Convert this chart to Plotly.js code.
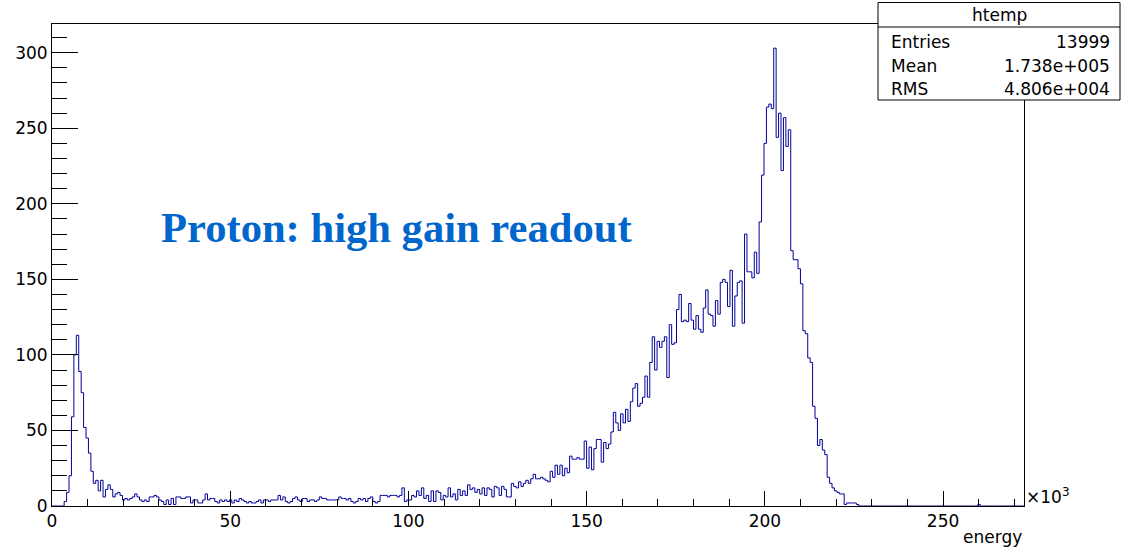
<!DOCTYPE html>
<html>
<head>
<meta charset="utf-8">
<script src="https://cdn.plot.ly/plotly-3.0.1.min.js"></script>
<style>
  html, body { margin: 0; padding: 0; background: #fff; }
  #chart { width: 1124px; height: 551px; }
</style>
</head>
<body>
<div id="chart"></div>
<script>
// Histogram definition (htemp): 400 bins over energy [0, 272.7] x10^3
const nBins = 400;
const xMin = 0;
const xMax = 272.7;

// Bin contents, bin 0 .. 399
const counts = [
  // 0-19
  0,0,0,0,0, 3,9,20,59,100, 113,89,75,52,45, 35,23,15,17,10,
  // 20-39
  17,6,11,14,11, 6,8,9,7,4, 5,4,5,6,8, 6,4,3,4,3,
  // 40-59
  6,6,7,6,4, 3,1,4,1,5, 1,6,6,5,5, 6,6,2,4,4,
  // 60-79
  2,2,4,8,4, 5,5,3,2,4, 3,4,3,4,2, 4,3,5,4,3,
  // 80-99
  2,3,2,2,3, 4,2,4,4,3, 4,4,4,7,4, 6,3,2,3,5,
  // 100-119
  6,4,3,5,5, 3,4,4,3,4, 6,5,5,4,4, 4,4,4,6,5,
  // 120-139
  5,4,5,3,2, 3,5,4,5,3, 5,6,3,2,3, 7,7,7,6,7,
  // 140-159
  7,7,6,7,12, 3,4,4,7,6, 10,7,12,5,7, 3,10,3,10,9,
  // 160-179
  4,7,6,12,6, 8,4,11,7,10, 7,14,11,12,9, 11,8,12,7,12,
  // 180-199
  11,6,13,12,7, 13,11,6,6,15, 13,12,16,13,15, 17,15,18,21,18,
  // 200-219
  18,19,18,17,16, 23,19,27,21,27, 20,25,22,33,31, 31,32,31,31,43,
  // 220-239
  25,39,24,38,44, 44,29,42,38,41, 49,62,55,50,61, 55,64,56,69,78,
  // 240-259
  81,66,68,72,86, 72,95,112,90,109, 105,109,112,85,120, 107,108,130,140,122,
  // 260-279
  123,122,134,123,117, 126,117,115,131,143, 127,126,119,136,127, 148,150,148,132,156,
  // 280-299
  119,139,148,149,121, 180,155,155,151,168, 154,188,219,240,264, 266,263,303,244,260,
  // 300-319
  222,257,238,249,169, 163,163,157,147,116, 114,98,95,66,58, 40,44,37,34,19,
  // 320-339
  15,12,10,9,8, 8,1,2,2,2, 2,1,0,0,0, 0,0,0,0,0,
  // 340-359
  0,0,0,0,0, 0,0,0,0,0, 0,0,0,0,0, 0,0,0,0,0,
  // 360-379
  0,0,0,0,0, 0,0,0,0,0, 0,0,0,0,0, 0,0,0,0,0,
  // 380-399
  0,1,0,0,0, 0,0,0,0,0, 0,0,0,0,0, 0,0,0,0,0
];

// Stats box texts
const statsTitle = "htemp";
const statsLabels = ["Entries", "Mean", "RMS"];
const statsValues = ["13999", "1.738e+005", "4.806e+004"];

const chartLabel = "Proton: high gain readout";
const xTitle = "energy";
const xExponent = "×10<sup>3</sup>";

// Build step outline from bin edges
const bw = (xMax - xMin) / nBins;
const xs = [], ys = [];
for (let i = 0; i <= nBins; i++) {
  xs.push(xMin + i * bw);
  ys.push(i < nBins ? counts[i] : counts[nBins - 1]);
}

const font = "DejaVu Sans, Liberation Sans, Arial, sans-serif";

const trace = {
  type: "scatter",
  mode: "lines",
  x: xs,
  y: ys,
  line: { shape: "hv", color: "#000099", width: 1 },
  hoverinfo: "skip"
};

// Stats-box geometry in pixels -> paper fractions
const L = 52, R = 100, T = 24, B = 45, W = 1124, H = 551;
const pw = W - L - R, ph = H - T - B;
const px = v => (v - L) / pw;
const py = v => (H - B - v) / ph;

const boxX0 = 878, boxX1 = 1120, boxY0 = 2.5, boxY1 = 100, sepY = 27;
const rowY = [42, 65.5, 89];

const shapes = [
  { type: "rect", xref: "paper", yref: "paper",
    x0: px(boxX0), x1: px(boxX1), y0: py(boxY1), y1: py(boxY0),
    line: { color: "#000", width: 1 }, fillcolor: "#fff", layer: "above" },
  { type: "line", xref: "paper", yref: "paper",
    x0: px(boxX0), x1: px(boxX1), y0: py(sepY), y1: py(sepY),
    line: { color: "#000", width: 1 }, layer: "above" }
];

const annotations = [
  { xref: "paper", yref: "paper", x: px((boxX0 + boxX1) / 2), y: py(15),
    text: statsTitle, showarrow: false, xanchor: "center", yanchor: "middle",
    font: { family: font, size: 17, color: "#000" } }
];
statsLabels.forEach((lab, i) => {
  annotations.push({ xref: "paper", yref: "paper", x: px(889), y: py(rowY[i]),
    text: lab, showarrow: false, xanchor: "left", yanchor: "middle",
    font: { family: font, size: 17, color: "#000" } });
  annotations.push({ xref: "paper", yref: "paper", x: px(1112), y: py(rowY[i]),
    text: statsValues[i], showarrow: false, xanchor: "right", yanchor: "middle",
    font: { family: font, size: 17, color: "#000" } });
});
annotations.push({ xref: "paper", yref: "paper", x: px(159), y: py(227.5),
  text: "<b>" + chartLabel + "</b>", showarrow: false, xanchor: "left", yanchor: "middle",
  font: { family: "Liberation Serif, Times New Roman, serif", size: 42.6, color: "#0066cc" } });
annotations.push({ xref: "paper", yref: "paper", x: px(1024), y: py(496),
  text: xExponent, showarrow: false, xanchor: "left", yanchor: "middle",
  font: { family: font, size: 17, color: "#000" } });
annotations.push({ xref: "paper", yref: "paper", x: px(1024), y: py(537),
  text: xTitle, showarrow: false, xanchor: "right", yanchor: "middle",
  font: { family: font, size: 17, color: "#000" } });

const layout = {
  width: W, height: H,
  margin: { l: L, r: R, t: T, b: B, pad: 0 },
  paper_bgcolor: "#fff", plot_bgcolor: "#fff",
  showlegend: false,
  xaxis: {
    range: [xMin, xMax], showgrid: false, zeroline: false,
    showline: true, mirror: true, linecolor: "#000", linewidth: 1,
    ticks: "inside", ticklen: 15, tickwidth: 1, tickcolor: "#000",
    tick0: 0, dtick: 50,
    minor: { dtick: 10, tick0: 0, ticks: "inside", ticklen: 7, tickwidth: 1, tickcolor: "#000", showgrid: false },
    tickfont: { family: font, size: 17, color: "#000" }
  },
  yaxis: {
    range: [0, 319], showgrid: false, zeroline: false,
    showline: true, mirror: true, linecolor: "#000", linewidth: 1,
    ticks: "inside", ticklen: 26, tickwidth: 1, tickcolor: "#000",
    tick0: 0, dtick: 50,
    minor: { dtick: 10, tick0: 0, ticks: "inside", ticklen: 15, tickwidth: 1, tickcolor: "#000", showgrid: false },
    tickfont: { family: font, size: 17, color: "#000" }
  },
  shapes: shapes,
  annotations: annotations
};

Plotly.newPlot("chart", [trace], layout, { staticPlot: true, displayModeBar: false });
</script>
</body>
</html>
